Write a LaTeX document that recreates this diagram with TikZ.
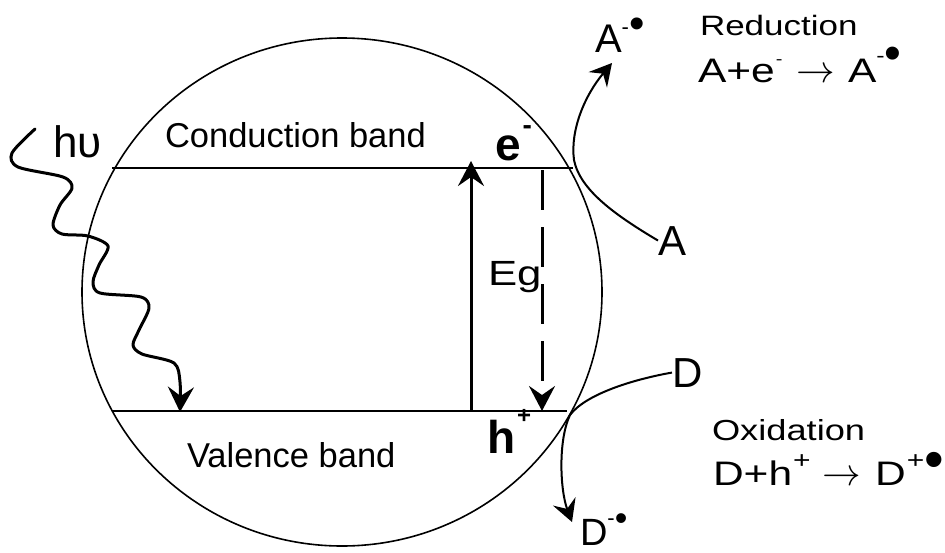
\documentclass[tikz,border=0pt]{standalone}
\usepackage{fontspec}
\setmainfont{Liberation Sans}
\newfontfamily\widefont[FakeStretch=1.25]{Liberation Sans}
\usetikzlibrary{arrows.meta}
\newcommand\upm[3]{\raisebox{#1pt}{\fontsize{#2}{#2}\selectfont #3}}
\newcommand\bigarrow{{\fontsize{24.88}{30}\selectfont\scalebox{1.55}{$\rightarrow$}}}
\begin{document}
\begin{tikzpicture}[x=1pt,y=-1pt,
  band/.style={line width=1.6pt},
  lbl/.style={anchor=base west, inner sep=0pt, outer sep=0pt},
  bigtip/.style={-{Stealth[length=25pt,width=26pt,inset=9pt]}},
  midtip/.style={-{Stealth[length=22pt,width=24pt,inset=8pt]}},
  thickarrow/.style={line width=3pt, bigtip},
  dasharrow/.style={line width=3pt, bigtip, dash pattern=on 40pt off 17pt},
  curvearrow/.style={line width=2pt, midtip},
  wavy/.style={line width=3pt, bigtip, line join=round, line cap=round}]
\useasboundingbox (0,0) rectangle (945,552);
\fill[white] (0,0) rectangle (945,552);

% particle
\draw[line width=1.6pt] (342,292) ellipse [x radius=260pt, y radius=254pt];

% bands
\coordinate (cbL) at (112,168);
\coordinate (cbR) at (573,168);
\coordinate (vbL) at (112,411);
\coordinate (vbR) at (567,411);
\draw[band] (cbL) -- (cbR);
\draw[band] (vbL) -- (vbR);

% texts
\node[lbl, font=\fontsize{34.5}{40}\selectfont] (cb) at (165,147) {Conduction band};
\node[lbl, font=\fontsize{34.5}{40}\selectfont] (vb) at (187,467) {Valence band};
\node[lbl, font=\fontsize{46}{50}\selectfont\bfseries] (e) at (495,160) {e\kern2pt\upm{26}{28}{-}};
\node[lbl, font=\fontsize{46}{50}\selectfont\bfseries] (h) at (487,453) {h\kern2pt\upm{30}{24}{+}};
\node[lbl, font=\widefont\fontsize{35}{40}\selectfont] (eg) at (488,285) {Eg};
\node[lbl, font=\fontsize{44}{50}\selectfont] (hv) at (53,157) {hυ};

\node[lbl, font=\fontsize{42}{48}\selectfont] (A) at (658,255) {A};
\node[lbl, font=\fontsize{42}{48}\selectfont] (D) at (672,387) {D};
\node[lbl, font=\fontsize{40}{46}\selectfont] (Am) at (595,52) {A\upm{18}{22}{-}\upm{13.8}{44}{\textbullet}};
\node[lbl, font=\fontsize{38}{44}\selectfont] (Dm) at (580,545) {D\upm{20}{22}{-}\upm{15}{36}{\textbullet}};

\node[lbl, font=\widefont\fontsize{28}{34}\selectfont] (red) at (700,35) {Reduction};
\node[lbl, font=\widefont\fontsize{34}{40}\selectfont] (eq1) at (698,82)
  {A+e\kern1pt\upm{17.7}{16}{-}\hspace{14pt}\bigarrow\hspace{13pt}A\upm{19.6}{20}{-}\upm{12.6}{48}{\rmfamily\textbullet}};
\node[lbl, font=\widefont\fontsize{29}{34}\selectfont] (ox) at (712,440) {Oxidation};
\node[lbl, font=\widefont\fontsize{34}{40}\selectfont] (eq2) at (713,485)
  {D+h\kern1pt\upm{16.6}{24}{+}\hspace{12pt}\bigarrow\hspace{14pt}D\kern1pt\upm{16.6}{24}{+}\upm{6.2}{56}{\rmfamily\textbullet}};

% excitation and recombination
\coordinate (upS) at (471,411);
\coordinate (upE) at (471,161);
\draw[thickarrow] (upS) -- (upE);
\coordinate (dnS) at (542,170);
\coordinate (dnE) at (542,411);
\draw[dasharrow] (dnS) -- (dnE);

% photon
\coordinate (hvS) at (35,129);
\coordinate (hvE) at (180,412);
\draw[wavy] plot[smooth, tension=0.5] coordinates {(hvS) (12,153) (18,167) (63,177) (72,188) (60,205) (53,225) (62,234) (88,236) (108,246) (99,265) (93,282) (100,293) (141,297) (149,308) (139,330) (133,345) (142,354) (174,363) (180,382) (hvE)};

% A reduction
\coordinate (Atip) at (612,63);
\draw[curvearrow] (A.west) .. controls (615,215) and (580,190) .. (574,160) .. controls (570,130) and (585,95) .. (Atip);
% D oxidation
\coordinate (Dtip) at (572,522);
\draw[curvearrow] (D.west) .. controls (630,380) and (585,395) .. (570,415) .. controls (558,440) and (560,490) .. (Dtip);
\end{tikzpicture}
\end{document}
